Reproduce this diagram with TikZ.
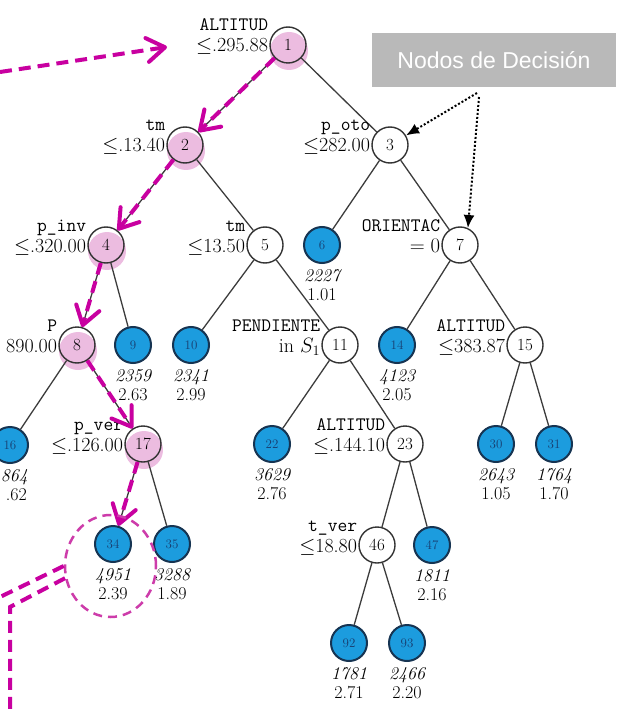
\documentclass[tikz,border=0pt]{standalone}
\usepackage{fontspec}
\newfontfamily\tagfont{Liberation Sans}
\usetikzlibrary{arrows.meta,calc,shapes.geometric}

\definecolor{pathmag}{RGB}{200,0,160}
\definecolor{ringmag}{RGB}{205,60,170}
\definecolor{hilite}{RGB}{236,188,224}
\definecolor{leafblue}{RGB}{28,156,222}
\definecolor{leafedge}{RGB}{22,52,82}
\definecolor{leafnum}{RGB}{24,62,112}
\definecolor{edgegray}{RGB}{60,60,60}
\definecolor{boxgray}{RGB}{185,185,185}

\begin{document}
\begin{tikzpicture}[x=1pt,y=-1pt,
  testnode/.style={circle,draw=black!80,line width=1.4pt,minimum size=36pt,inner sep=0pt,
    font=\fontsize{17}{17}\selectfont},
  leaf/.style={circle,draw=leafedge,fill=leafblue,line width=2pt,minimum size=36pt,inner sep=0pt,
    text=leafnum,font=\fontsize{13}{13}\selectfont},
  glow/.style={circle,fill=hilite,minimum size=38pt,inner sep=0pt},
  branch/.style={draw=edgegray,line width=1.3pt},
  rulename/.style={anchor=base east,inner sep=0pt,font=\fontsize{19}{19}\selectfont\ttfamily},
  rulecut/.style={anchor=base east,inner sep=0pt,font=\fontsize{20}{20}\selectfont},
  tally/.style={anchor=base,inner sep=0pt,font=\fontsize{18}{18}\selectfont\itshape},
  gain/.style={anchor=base,inner sep=0pt,font=\fontsize{18}{18}\selectfont},
  route/.style={draw=pathmag,line width=4pt,dash pattern=on 12pt off 7pt,
    -{Straight Barb[length=18pt,width=24pt,round]}},
  trail/.style={draw=pathmag,line width=4pt,dash pattern=on 12pt off 7pt},
  loop/.style={ellipse,draw=ringmag,line width=2.5pt,dash pattern=on 9pt off 6pt,
    minimum width=91pt,minimum height=102pt,inner sep=0pt},
  tagbox/.style={fill=boxgray,text=white,minimum width=244pt,minimum height=54pt,inner sep=0pt,
    font=\tagfont\fontsize{23}{23}\selectfont},
  pointer/.style={draw=black,line width=2pt,dash pattern=on 2pt off 2pt,
    -{Latex[length=13pt,width=11pt]}}
]
\useasboundingbox (0,0) rectangle (616,714);
\clip (0,0) rectangle (616,714);

% node positions
\foreach \id/\x/\y in {1/288/45, 2/185/145, 3/390/145, 4/106/245, 5/265/245, 6/322/245,
  7/460/245, 8/77/345, 9/133/345, 10/191/345, 11/340/345, 14/397/345, 15/525/345,
  16/10/445, 17/143/444, 22/272/444, 23/405/444, 30/496/444, 31/554/444,
  34/113/544, 35/172/544, 46/377/545, 47/432/545, 92/349/643, 93/407/643}
  \coordinate (p\id) at (\x,\y);

% highlighted decision path: soft discs
\foreach \id in {1,2,4,8,17}
  \node[glow] (h\id) at ($(p\id)+(1,6)$) {};

% split nodes
\foreach \id in {1,2,3,4,5,7,8,11,15,17,23,46}
  \node[testnode] (n\id) at (p\id) {\id};

% leaves with count and value
\foreach \id/\cnt/\val in {6/2227/1.01, 9/2359/2.63, 10/2341/2.99, 14/4123/2.05,
  22/3629/2.76, 30/2643/1.05, 31/1764/1.70, 34/4951/2.39, 35/3288/1.89,
  47/1811/2.16, 92/1781/2.71, 93/2466/2.20}{
  \node[leaf] (n\id) at (p\id) {\id};
  \node[tally] (c\id) at ($(p\id)+(0,36)$) {\cnt};
  \node[gain] (g\id) at ($(p\id)+(0,55)$) {\val};
}
\node[leaf] (n16) at (p16) {16};
\node[tally,anchor=base east] (c16) at ($(p16)+(18,36)$) {864};
\node[gain,anchor=base east] (g16) at ($(p16)+(17,55)$) {.62};

% tree edges
\foreach \a/\b in {1/2,1/3,2/4,2/5,3/6,3/7,4/8,4/9,5/10,5/11,7/14,7/15,8/16,8/17,
  11/22,11/23,15/30,15/31,17/34,17/35,23/46,23/47,46/92,46/93}
  \draw[branch] (n\a) -- (n\b);

% split rules
\foreach \id/\name/\cut in {1/ALTITUD/{$\leq$.295.88}, 2/tm/{$\leq$.13.40},
  3/p\_oto/{$\leq$282.00}, 4/p\_inv/{$\leq$.320.00}, 5/tm/{$\leq$13.50},
  7/ORIENTAC/{$=0$}, 8/P/{890.00}, 11/PENDIENTE/{in $S_1$},
  15/ALTITUD/{$\leq$383.87}, 17/p\_ver/{$\leq$.126.00},
  23/ALTITUD/{$\leq$.144.10}, 46/t\_ver/{$\leq$18.80}}{
  \node[rulename] (ra\id) at ($(n\id.west)+(-1,-14)$) {\name};
  \node[rulecut] (rb\id) at ($(n\id.west)+(-1,7)$) {\cut};
}

% followed path
\foreach \a/\b in {1/2,2/4,4/8,8/17,17/34}
  \draw[route] (n\a) -- (n\b);
\coordinate (inA) at (0,72);
\coordinate (inB) at (167,47);
\draw[route] (inA) -- (inB);

% selected leaf and its outgoing double line
\node[loop] (sel) at (110.5,566) {};
\coordinate (outA) at (0,597);
\coordinate (outB) at (10,607);
\coordinate (outC) at (10,714);
\draw[trail] (sel.180) -- (outA);
\draw[trail] (sel.195) -- (outB) -- (outC);

% callout
\node[tagbox] (tag) at (494,60) {Nodos de Decisión};
\coordinate (tagfoot) at (477,93);
\coordinate (tagfootb) at (479,97);
\draw[pointer] (tagfoot) -- (n3);
\draw[pointer] (tagfootb) -- (n7.65);
\end{tikzpicture}
\end{document}
